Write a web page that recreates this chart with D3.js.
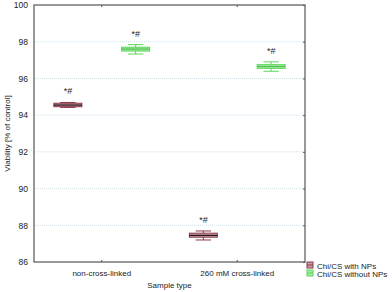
<!DOCTYPE html>
<html>
<head>
<meta charset="utf-8">
<script src="https://cdn.jsdelivr.net/npm/d3@7"></script>
<style>
body { margin: 0; background: #fff; }
text { font-family: "Liberation Sans", Arial, sans-serif; fill: #222; }
</style>
</head>
<body>
<svg id="chart" width="392" height="292"></svg>
<script>
// data
var categories = ["non-cross-linked", "260 mM cross-linked"];
var series = ["Chi/CS with NPs", "Chi/CS without NPs"];
var means   = [[94.55, 97.60], [87.45, 96.65]];
var boxLo   = [[94.46, 97.49], [87.35, 96.55]];
var boxHi   = [[94.65, 97.70], [87.57, 96.75]];
var whiskLo = [[94.42, 97.33], [87.20, 96.39]];
var whiskHi = [[94.69, 97.84], [87.69, 96.90]];
var yTicks = [86, 88, 90, 92, 94, 96, 98, 100];

var seriesStroke = ["#8a3a4a", "#5ed65e"];
var seriesFill = ["#c9a1ab", "#a6eaa6"];
var seriesMid = ["#2a1015", "#4cc44c"];

var PLOT_LEFT = 34, PLOT_RIGHT = 305, PLOT_TOP = 5, PLOT_BOTTOM = 262;
var BOX_W = 28;

var svg = d3.select("#chart");

var y = d3.scaleLinear().domain([86, 100]).range([PLOT_BOTTOM, PLOT_TOP]);
var x = d3.scaleBand().domain(categories).range([PLOT_LEFT, PLOT_RIGHT]);
var xSub = d3.scaleBand().domain(series).range([0, x.bandwidth()]);

//grid lines
svg.append("g")
	.selectAll("line")
	.data(yTicks.slice(1, -1))
	.enter()
	.append("line")
	.attr("x1", PLOT_LEFT)
	.attr("x2", PLOT_RIGHT)
	.attr("y1", function(d) { return y(d); })
	.attr("y2", function(d) { return y(d); })
	.attr("stroke", "#d3dfe6")
	.attr("stroke-width", 1)
	.attr("stroke-dasharray", "1,1");

//frame
svg.append("rect")
	.attr("x", PLOT_LEFT)
	.attr("y", PLOT_TOP)
	.attr("width", PLOT_RIGHT - PLOT_LEFT)
	.attr("height", PLOT_BOTTOM - PLOT_TOP)
	.attr("fill", "none")
	.attr("stroke", "#555")
	.attr("stroke-width", 1.2);

//axes
var yAxis = svg.append("g")
	.attr("transform", "translate(" + PLOT_LEFT + ",0)")
	.call(d3.axisLeft(y).tickValues(yTicks).tickSize(0).tickPadding(6));
yAxis.select(".domain").remove();
yAxis.selectAll("text").attr("font-size", "8.5px").attr("fill", "#222");

var yAxisRight = svg.append("g")
	.attr("transform", "translate(" + PLOT_RIGHT + ",0)")
	.call(d3.axisRight(y).tickValues(yTicks).tickSize(-2).tickFormat(""));
yAxisRight.select(".domain").remove();
yAxisRight.selectAll("line").attr("stroke", "#555");

var xAxis = svg.append("g")
	.attr("transform", "translate(0," + PLOT_BOTTOM + ")")
	.call(d3.axisBottom(x).tickSize(-2).tickPadding(8));
xAxis.select(".domain").remove();
xAxis.selectAll("line").attr("stroke", "#555");
xAxis.selectAll("text").attr("font-size", "8px").attr("fill", "#222");

var xAxisTop = svg.append("g")
	.attr("transform", "translate(0," + PLOT_TOP + ")")
	.call(d3.axisTop(x).tickSize(-2).tickFormat(""));
xAxisTop.select(".domain").remove();
xAxisTop.selectAll("line").attr("stroke", "#555");

//axis titles
svg.append("text")
	.attr("x", (PLOT_LEFT + PLOT_RIGHT) / 2)
	.attr("y", 288)
	.attr("text-anchor", "middle")
	.attr("font-size", "8px")
	.text("Sample type");

svg.append("text")
	.attr("transform", "translate(10," + (PLOT_TOP + PLOT_BOTTOM) / 2 + ") rotate(-90)")
	.attr("text-anchor", "middle")
	.attr("font-size", "8px")
	.text("Viability [% of control]");

//boxes
var boxData = [];
categories.forEach(function(c, i) {
	series.forEach(function(s, j) {
		boxData.push({cat: c, ser: s, si: j, mean: means[i][j], lo: boxLo[i][j], hi: boxHi[i][j], wlo: whiskLo[i][j], whi: whiskHi[i][j]});
	});
});

var boxes = svg.selectAll(".box")
	.data(boxData)
	.enter()
	.append("g")
	.attr("class", "box")
	.attr("transform", function(d) {
		return "translate(" + (x(d.cat) + xSub(d.ser) + xSub.bandwidth() / 2) + ",0)";
	})
	.each(function(d) {
		var g = d3.select(this);
		var cw = BOX_W * 0.55;
		g.append("line")
			.attr("x1", 0).attr("x2", 0)
			.attr("y1", y(d.whi)).attr("y2", y(d.wlo))
			.attr("stroke", seriesStroke[d.si]).attr("stroke-width", 1);
		[d.whi, d.wlo].forEach(function(v) {
			g.append("line")
				.attr("x1", -cw / 2).attr("x2", cw / 2)
				.attr("y1", y(v)).attr("y2", y(v))
				.attr("stroke", seriesStroke[d.si]).attr("stroke-width", 1);
		});
		g.append("rect")
			.attr("x", -BOX_W / 2)
			.attr("y", y(d.hi))
			.attr("width", BOX_W)
			.attr("height", y(d.lo) - y(d.hi))
			.attr("fill", seriesFill[d.si])
			.attr("stroke", seriesStroke[d.si])
			.attr("stroke-width", 1);
		g.append("line")
			.attr("x1", -BOX_W / 2).attr("x2", BOX_W / 2)
			.attr("y1", y(d.mean)).attr("y2", y(d.mean))
			.attr("stroke", seriesMid[d.si]).attr("stroke-width", 1.2);
		g.append("text")
			.attr("x", 0)
			.attr("y", y(d.whi) - 8)
			.attr("text-anchor", "middle")
			.attr("font-size", "9px")
			.text("*#");
	});

//legend
var legend = svg.append("g")
	.attr("transform", "translate(307,262)");

legend.selectAll(".legendItem")
	.data(series)
	.enter()
	.append("g")
	.attr("class", "legendItem")
	.attr("transform", function(d, i) { return "translate(0," + (i * 8) + ")"; })
	.each(function(d, i) {
		var g = d3.select(this);
		g.append("rect")
			.attr("width", 6).attr("height", 6)
			.attr("fill", seriesFill[i])
			.attr("stroke", seriesStroke[i]);
		g.append("line")
			.attr("x1", 0).attr("x2", 6)
			.attr("y1", 3).attr("y2", 3)
			.attr("stroke", seriesStroke[i]);
		g.append("text")
			.attr("x", 10)
			.attr("y", 6.5)
			.attr("font-size", "8px")
			.text(d);
	});
</script>
</body>
</html>
